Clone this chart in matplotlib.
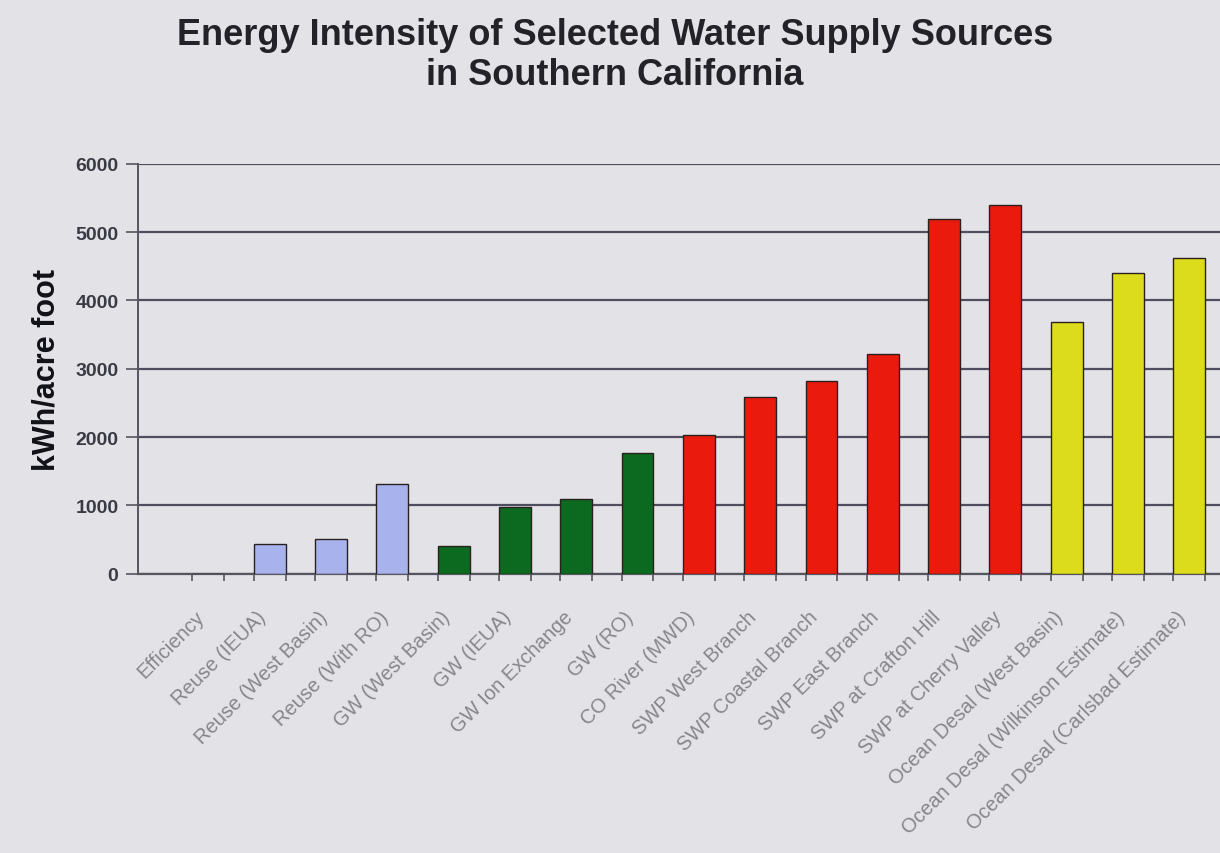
import numpy as np
import matplotlib
matplotlib.use('Agg')
import matplotlib.pyplot as plt

# categories and values (kWh / acre foot)
sources = ['Efficiency', 'Reuse (IEUA)', 'Reuse (West Basin)', 'Reuse (With RO)',
           'GW (West Basin)', 'GW (IEUA)', 'GW Ion Exchange', 'GW (RO)',
           'CO River (MWD)', 'SWP West Branch', 'SWP Coastal Branch', 'SWP East Branch',
           'SWP at Crafton Hill', 'SWP at Cherry Valley', 'Ocean Desal (West Basin)',
           'Ocean Desal (Wilkinson Estimate)', 'Ocean Desal (Carlsbad Estimate)']
kwh = [0, 430, 510, 1310, 400, 970, 1100, 1760,
       2030, 2590, 2820, 3210, 5190, 5400, 3690, 4400, 4620]
groups = ['reuse', 'reuse', 'reuse', 'reuse',
          'gw', 'gw', 'gw', 'gw',
          'import', 'import', 'import', 'import', 'import', 'import',
          'desal', 'desal', 'desal']
yticks = [0, 1000, 2000, 3000, 4000, 5000, 6000]

group_colors = {'reuse': '#a8b2ec', 'gw': '#0b6a1f', 'import': '#ea1a0c', 'desal': '#dcdc1c'}
bg = '#e3e3e7'

plt.rcParams['font.family'] = ['Liberation Sans', 'DejaVu Sans']

fig = plt.figure(figsize=(12.2, 8.54), dpi=100, facecolor=bg)
ax = fig.add_axes([0.113, 0.327, 0.887, 0.480])
ax.set_facecolor(bg)

x = np.arange(len(sources))
ax.bar(x, kwh, width=0.52, color=[group_colors[g] for g in groups],
       edgecolor='#2a2020', linewidth=1.0, zorder=3)

ax.set_ylim(0, 6000)
ax.set_xlim(-1.15, len(sources) - 0.5)
ax.set_yticks(yticks)
ax.set_yticklabels([str(v) for v in yticks], fontsize=14, fontweight='bold', color='#3a3a44')
ax.yaxis.grid(True, color='#4e4e5e', linewidth=1.6, zorder=1)
ax.set_axisbelow(True)

ax.set_xticks(x)
ax.set_xticklabels(sources, rotation=45, ha='right', va='top', fontsize=14.5, color='#85858c')
ax.tick_params(axis='x', length=0, pad=24)
ax.set_xticks(np.concatenate([x - 0.26, x + 0.26]), minor=True)
ax.tick_params(axis='x', which='minor', length=5, color='#555560', width=1.2)
ax.tick_params(axis='y', length=9, color='#555560', width=1.2, pad=5)

for side in ['top', 'right']:
    ax.spines[side].set_visible(False)
ax.spines['left'].set_color('#555560')
ax.spines['left'].set_linewidth(1.4)
ax.spines['bottom'].set_color('#555560')
ax.spines['bottom'].set_linewidth(1.6)

ax.set_ylabel('kWh/acre foot', fontsize=22, fontweight='bold', color='#111118', labelpad=10)

fig.text(0.504, 0.935, 'Energy Intensity of Selected Water Supply Sources\nin Southern California',
         ha='center', va='center', fontsize=26, fontweight='bold', color='#222228',
         linespacing=1.2)

fig.savefig('out.png', dpi=100, facecolor=bg)
